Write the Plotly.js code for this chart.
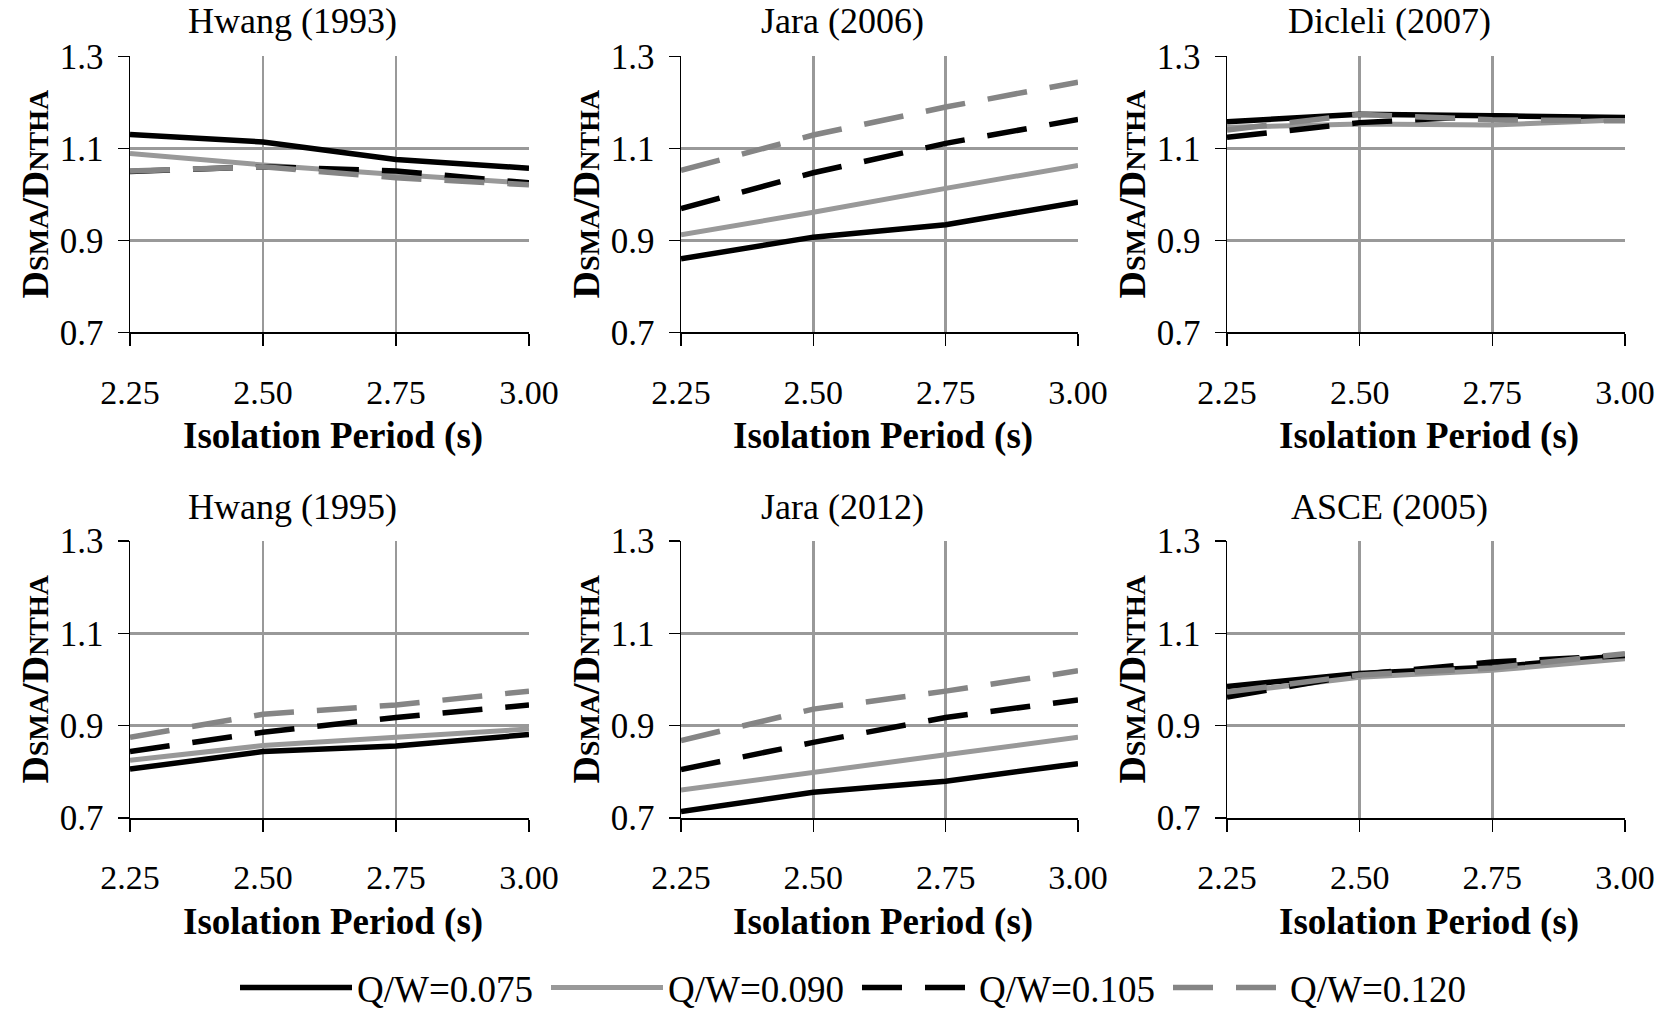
<!DOCTYPE html>
<html>
<head>
<meta charset="utf-8">
<script src="https://cdn.plot.ly/plotly-3.0.1.min.js"></script>
<style>html,body{margin:0;padding:0;background:#fff;}#chart{width:1663px;height:1019px;}</style>
</head>
<body>
<div id="chart"></div>
<script>
// ---- data ----
const periods = [2.25, 2.50, 2.75, 3.00];
const periodLabels = ['2.25', '2.50', '2.75', '3.00'];
const ratioTicks = [0.7, 0.9, 1.1, 1.3];
const ratioLabels = ['0.7', '0.9', '1.1', '1.3'];
const seriesNames = ['Q/W=0.075', 'Q/W=0.090', 'Q/W=0.105', 'Q/W=0.120'];
const panelTitles = ['Hwang (1993)', 'Jara (2006)', 'Dicleli (2007)', 'Hwang (1995)', 'Jara (2012)', 'ASCE (2005)'];

const hwang1993_075 = [1.130, 1.114, 1.076, 1.057];
const hwang1993_090 = [1.089, 1.064, 1.043, 1.024];
const hwang1993_105 = [1.050, 1.060, 1.051, 1.025];
const hwang1993_120 = [1.051, 1.060, 1.036, 1.021];

const jara2006_075 = [0.860, 0.907, 0.934, 0.983];
const jara2006_090 = [0.912, 0.961, 1.013, 1.063];
const jara2006_105 = [0.969, 1.047, 1.111, 1.163];
const jara2006_120 = [1.052, 1.129, 1.190, 1.244];

const dicleli2007_075 = [1.158, 1.174, 1.171, 1.167];
const dicleli2007_090 = [1.146, 1.153, 1.151, 1.162];
const dicleli2007_105 = [1.124, 1.156, 1.171, 1.163];
const dicleli2007_120 = [1.140, 1.174, 1.162, 1.160];

const hwang1995_075 = [0.806, 0.844, 0.856, 0.881];
const hwang1995_090 = [0.825, 0.857, 0.875, 0.893];
const hwang1995_105 = [0.844, 0.886, 0.918, 0.945];
const hwang1995_120 = [0.875, 0.925, 0.945, 0.975];

const jara2012_075 = [0.714, 0.756, 0.780, 0.818];
const jara2012_090 = [0.761, 0.800, 0.837, 0.875];
const jara2012_105 = [0.805, 0.864, 0.918, 0.956];
const jara2012_120 = [0.868, 0.936, 0.975, 1.019];

const asce2005_075 = [0.985, 1.013, 1.027, 1.052];
const asce2005_090 = [0.971, 1.005, 1.020, 1.045];
const asce2005_105 = [0.962, 1.011, 1.038, 1.052];
const asce2005_120 = [0.973, 1.010, 1.025, 1.056];

const panels = [
  [hwang1993_075, hwang1993_090, hwang1993_105, hwang1993_120],
  [jara2006_075, jara2006_090, jara2006_105, jara2006_120],
  [dicleli2007_075, dicleli2007_090, dicleli2007_105, dicleli2007_120],
  [hwang1995_075, hwang1995_090, hwang1995_105, hwang1995_120],
  [jara2012_075, jara2012_090, jara2012_105, jara2012_120],
  [asce2005_075, asce2005_090, asce2005_105, asce2005_120]
];

// ---- styles ----
const FONT = 'Liberation Serif, Times New Roman, serif';
const lineStyles = [
  {color: '#000000', width: 5.5, dash: 'solid'},
  {color: '#999999', width: 5, dash: 'solid'},
  {color: '#000000', width: 5.5, dash: '40px,23px'},
  {color: '#858585', width: 5.5, dash: '40px,23px'}
];
const W = 1663, H = 1019;
const colPx = [[130, 529], [681, 1078], [1227, 1625]];
const rowPx = [[57, 336], [547, 827]];

const traces = [];
const layout = {
  width: W, height: H,
  margin: {l: 0, r: 0, t: 0, b: 0},
  paper_bgcolor: '#ffffff', plot_bgcolor: '#ffffff',
  font: {family: FONT, color: '#000000', size: 32},
  showlegend: true,
  legend: {
    orientation: 'h', x: 235 / W, xanchor: 'left', y: 1 - 999 / H, yanchor: 'middle',
    font: {family: FONT, size: 37, color: '#000'},
    itemwidth: 112, entrywidth: 184, entrywidthmode: 'pixels',
    bgcolor: 'rgba(0,0,0,0)'
  },
  annotations: []
};

panels.forEach((series, p) => {
  const n = p + 1;
  const xa = 'x' + (n === 1 ? '' : n);
  const ya = 'y' + (n === 1 ? '' : n);
  const col = p % 3, row = Math.floor(p / 3);
  series.forEach((vals, s) => {
    traces.push({
      type: 'scatter', mode: 'lines', x: periods, y: vals,
      xaxis: xa, yaxis: ya, name: seriesNames[s], legendgroup: seriesNames[s],
      showlegend: p === 0, line: lineStyles[s], hoverinfo: 'skip'
    });
  });
  layout['xaxis' + (n === 1 ? '' : n)] = {
    domain: [colPx[col][0] / W, colPx[col][1] / W],
    anchor: ya, range: [2.25, 3.0], fixedrange: true,
    tickmode: 'array', tickvals: periods, ticktext: periodLabels,
    showgrid: true, gridcolor: '#999999', gridwidth: 2.5,
    showline: true, linecolor: '#000', linewidth: 1.5, zeroline: false,
    ticks: 'outside', ticklen: 12, tickwidth: 1.3, tickcolor: '#000',
    ticklabelstandoff: 17,
    tickfont: {family: FONT, size: 34, color: '#000'}
  };
  layout['yaxis' + (n === 1 ? '' : n)] = {
    domain: [1 - rowPx[row][1] / H, 1 - rowPx[row][0] / H],
    anchor: xa, range: [0.7, 1.3], fixedrange: true,
    tickmode: 'array', tickvals: ratioTicks, ticktext: ratioLabels,
    showgrid: true, gridcolor: '#999999', gridwidth: 2.5,
    showline: true, linecolor: '#000', linewidth: 1.5, zeroline: false,
    ticks: 'outside', ticklen: 11, tickwidth: 1.3, tickcolor: '#000',
    ticklabelstandoff: 7,
    tickfont: {family: FONT, size: 35, color: '#000'}
  };
  // subplot title
  const titleAnn = {
    xref: xa + ' domain', x: 0.5, xanchor: 'center', xshift: -37,
    text: panelTitles[p], showarrow: false, borderpad: 0,
    font: {family: FONT, size: 36, color: '#000'}
  };
  if (row === 0) {
    Object.assign(titleAnn, {yref: 'paper', y: 1, yanchor: 'top', yshift: 0});
  } else {
    Object.assign(titleAnn, {yref: ya + ' domain', y: 1, yanchor: 'middle', yshift: 34});
  }
  layout.annotations.push(titleAnn);
  // x-axis title
  layout.annotations.push({
    xref: xa + ' domain', yref: ya + ' domain', x: 0.5, y: 0,
    xanchor: 'center', yanchor: 'middle', xshift: 3, yshift: -104,
    text: '<b>Isolation Period (s)</b>', showarrow: false,
    font: {family: FONT, size: 37, color: '#000'}
  });
  // y-axis title
  layout.annotations.push({
    xref: xa + ' domain', yref: ya + ' domain', x: 0, y: 0.5,
    xanchor: 'center', yanchor: 'middle', xshift: -95, textangle: -90,
    text: '<b>D<span style="font-size:28px">SMA</span>/D<span style="font-size:28px">NTHA</span></b>',
    showarrow: false,
    font: {family: FONT, size: 38, color: '#000'}
  });
});

Plotly.newPlot('chart', traces, layout, {staticPlot: true, displayModeBar: false});
</script>
</body>
</html>
